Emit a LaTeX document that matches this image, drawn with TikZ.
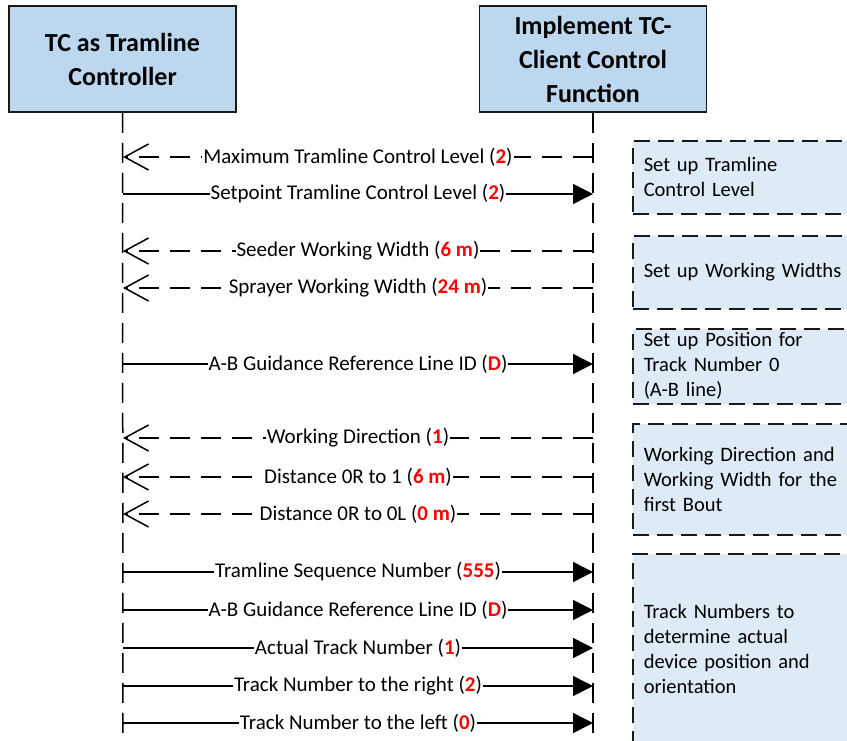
\documentclass[tikz,border=0pt]{standalone}
\usepackage{fontspec}
\setmainfont{Carlito}
\usetikzlibrary{arrows.meta}
\definecolor{hdrfill}{HTML}{BDD7EE}
\definecolor{notefill}{HTML}{DEEBF7}
\definecolor{redval}{HTML}{FF0000}
\newcommand\rv[1]{\textcolor{redval}{\bfseries #1}}
\begin{document}
\begin{tikzpicture}[x=1pt,y=-1pt,
  hdr/.style={draw=black!90, line width=1.5pt, fill=hdrfill, minimum width=227pt, minimum height=106pt,
     align=center, font=\fontsize{26}{34}\selectfont\bfseries, inner sep=0pt},
  life/.style={line width=1.5pt, dash pattern=on 20pt off 10pt},
  note/.style={draw=black!90, line width=1.5pt, dash pattern=on 16pt off 8pt, fill=notefill,
     anchor=north west, text width=238pt, inner xsep=11pt, inner ysep=0pt, align=left,
     font=\fontsize{20.5}{25}\selectfont},
  lbl/.style={fill=white, inner xsep=1pt, inner ysep=1pt, font=\fontsize{21}{24}\selectfont},
  ret/.style={line width=1.5pt, dash pattern=on 20pt off 11pt, -{Straight Barb[length=24pt,width=26pt,line width=1.5pt]}},
  req/.style={line width=1.5pt, -{Triangle[length=20pt,width=20pt]}}]
\useasboundingbox (0,0) rectangle (847,740);

% headers
\node[hdr] (hL) at (122.5,59) {TC as Tramline\\Controller};
\node[hdr] (hR) at (593,59) {Implement TC-\\Client Control\\Function};
\coordinate (eL) at (123,745);
\coordinate (eR) at (593,745);
\draw[life] (hL.south) -- (eL);
\draw[life] (hR.south) -- (eR);

% notes
\node[note, minimum height=73pt] (n1) at (632,140) {Set up Tramline\\Control Level};
\node[note, minimum height=73pt] (n2) at (632,235) {Set up Working Widths};
\node[note, minimum height=75pt] (n3) at (632,328) {Set up Position for\\Track Number 0\\(A-B line)};
\node[note, minimum height=111pt] (n4) at (632,423) {Working Direction and\\Working Width for the\\first Bout};
\node[note, minimum height=191pt] (n5) at (632,553) {Track Numbers to\\determine actual\\device position and\\orientation};

% message end points
\foreach \i/\y in {1/157,2/194,3/251,4/288,5/364,6/438,7/477,8/514,9/572,10/610,11/648,12/686,13/723}{
  \coordinate (L\i) at (123,\y);
  \coordinate (R\i) at (593,\y);
}

\draw[ret] (R1) -- node[lbl] {Maximum Tramline Control Level (\rv{2})} (L1);
\draw[req] (L2) -- node[lbl] {Setpoint Tramline Control Level (\rv{2})} (R2);
\draw[ret] (R3) -- node[lbl] {Seeder Working Width (\rv{6 m})} (L3);
\draw[ret] (R4) -- node[lbl] {Sprayer Working Width (\rv{24 m})} (L4);
\draw[req] (L5) -- node[lbl] {A-B Guidance Reference Line ID (\rv{D})} (R5);
\draw[ret] (R6) -- node[lbl] {Working Direction (\rv{1})} (L6);
\draw[ret] (R7) -- node[lbl] {Distance 0R to 1 (\rv{6 m})} (L7);
\draw[ret] (R8) -- node[lbl] {Distance 0R to 0L (\rv{0 m})} (L8);
\draw[req] (L9) -- node[lbl] {Tramline Sequence Number (\rv{555})} (R9);
\draw[req] (L10) -- node[lbl] {A-B Guidance Reference Line ID (\rv{D})} (R10);
\draw[req] (L11) -- node[lbl] {Actual Track Number (\rv{1})} (R11);
\draw[req] (L12) -- node[lbl] {Track Number to the right (\rv{2})} (R12);
\draw[req] (L13) -- node[lbl] {Track Number to the left (\rv{0})} (R13);
\end{tikzpicture}
\end{document}
